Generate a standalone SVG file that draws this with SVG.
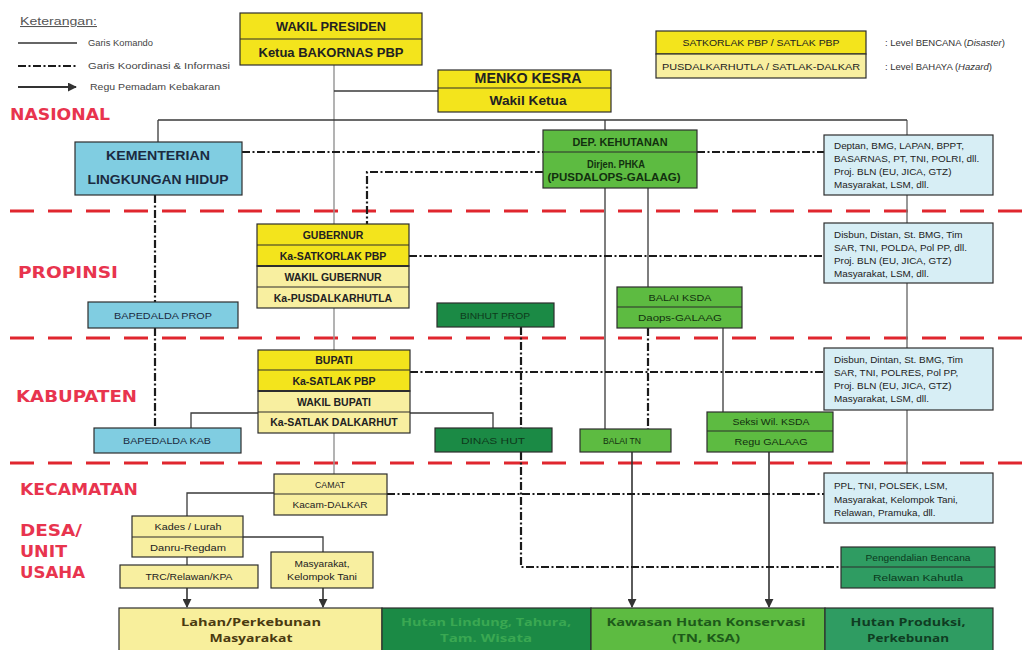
<svg xmlns="http://www.w3.org/2000/svg" width="1022" height="650" viewBox="0 0 1022 650">
<defs>
<marker id="ah" viewBox="0 0 10 10" refX="9" refY="5" markerWidth="9" markerHeight="9" markerUnits="userSpaceOnUse" orient="auto"><path d="M0,0 L10,5 L0,10 z" fill="#333"/></marker>
</defs>
<style>
.bx{stroke:#2d2d2d;stroke-width:1.2}
.sp{stroke:#2d2d2d;stroke-width:1.2;fill:none}
.sp2{stroke:#2d2d2d;stroke-width:2;fill:none}
.yb{fill:#f3e41c}.yl{fill:#f8efa0}.lb{fill:#80cde1}.pb{fill:#d7eef5}.g1{fill:#5dbb41}.g2{fill:#1b8a45}.g3{fill:#2f9c62}
text{font-family:"Liberation Sans",Arial,sans-serif}
.t{text-anchor:middle;font-weight:bold;fill:#222}
.n{text-anchor:middle;fill:#222}
.s{font-size:9.9px;fill:#222}
.lv{font-family:"DejaVu Sans",Verdana,sans-serif;font-weight:bold;font-size:16px;fill:#e8344e}
.lg{font-size:8.5px;fill:#444}
.cmd{stroke:#3a3a3a;stroke-width:1.3;fill:none}
.gr{stroke:#9a9a9a;stroke-width:1.5;fill:none}
.gr2{stroke:#777;stroke-width:1.5;fill:none}
.crd{stroke:#1a1a1a;stroke-width:2.2;fill:none;stroke-dasharray:8 2.5 2 2.5}
.arr{stroke:#333;stroke-width:1.6;fill:none}
.red{stroke:#e0262e;stroke-width:3;stroke-dasharray:24 14;fill:none}
.bt{font-family:"Open Sans","Liberation Sans",sans-serif;font-weight:bold;font-size:11px;text-anchor:middle}
</style>
<rect width="1022" height="650" fill="#ffffff"/>

<g id="legend">
<text x="20" y="25" font-size="10.5" fill="#555" text-decoration="underline" textLength="77" lengthAdjust="spacingAndGlyphs">Keterangan:</text>
<path d="M18,43H77" stroke="#333" stroke-width="1.3"/>
<text class="lg" x="88" y="46" textLength="65" lengthAdjust="spacingAndGlyphs">Garis Komando</text>
<path class="crd" d="M18,66H77"/>
<text class="lg" x="88" y="69" textLength="142" lengthAdjust="spacingAndGlyphs">Garis Koordinasi &amp; Informasi</text>
<path d="M18,87H76" stroke="#333" stroke-width="2.2" marker-end="url(#ah)"/>
<text class="lg" x="90" y="90" textLength="130" lengthAdjust="spacingAndGlyphs">Regu Pemadam Kebakaran</text>
<rect class="bx yb" x="656" y="31" width="210" height="23"/>
<rect class="bx yl" x="656" y="54" width="210" height="24"/>
<text class="n" x="761" y="46" font-size="9.5" textLength="157" lengthAdjust="spacingAndGlyphs">SATKORLAK PBP / SATLAK PBP</text>
<text class="n" x="761" y="70" font-size="9.5" textLength="198" lengthAdjust="spacingAndGlyphs">PUSDALKARHUTLA / SATLAK-DALKAR</text>
<text x="885" y="46" font-size="9.5" fill="#333">: Level BENCANA (<tspan font-style="italic">Disaster</tspan>)</text>
<text x="885" y="70" font-size="9.5" fill="#333">: Level BAHAYA (<tspan font-style="italic">Hazard</tspan>)</text>
</g>

<g id="levels">
<path class="red" d="M10,211H1022M10,338H1022M10,463H1022"/>
<text class="lv" x="10" y="120" textLength="100" lengthAdjust="spacingAndGlyphs">NASIONAL</text>
<text class="lv" x="18" y="278" textLength="100" lengthAdjust="spacingAndGlyphs">PROPINSI</text>
<text class="lv" x="16" y="402" textLength="121" lengthAdjust="spacingAndGlyphs">KABUPATEN</text>
<text class="lv" x="20" y="495" textLength="118" lengthAdjust="spacingAndGlyphs">KECAMATAN</text>
<text class="lv" x="20" y="536" textLength="62" lengthAdjust="spacingAndGlyphs">DESA/</text>
<text class="lv" x="20" y="557" textLength="47" lengthAdjust="spacingAndGlyphs">UNIT</text>
<text class="lv" x="20" y="578" textLength="65" lengthAdjust="spacingAndGlyphs">USAHA</text>
</g>

<g id="connectors">
<path class="gr" d="M334,65V474"/>
<path class="gr2" d="M907,120V473"/>
<path class="cmd" d="M334,91H438"/>
<path class="cmd" d="M158,120H907M158,120V142M605,120V130"/>
<path class="cmd" d="M605,188V429M648,188V287M723,328V412"/>
<path class="cmd" d="M191,428V413H493V428"/>
<path class="cmd" d="M274,493H187V516"/>
<path class="cmd" d="M243,537H323V552"/>
<path class="cmd" d="M187,557V565"/>
<path class="arr" d="M187,588V607" marker-end="url(#ah)"/>
<path class="arr" d="M323,588V607" marker-end="url(#ah)"/>
<path class="arr" d="M632,452V607" marker-end="url(#ah)"/>
<path class="arr" d="M769,452V607" marker-end="url(#ah)"/>
<path class="crd" d="M242,152H543"/>
<path class="crd" d="M543,172H367V224"/>
<path class="crd" d="M697,152H824"/>
<path class="crd" d="M155,195V302"/>
<path class="crd" d="M155,328V428"/>
<path class="crd" d="M409,256H824"/>
<path class="crd" d="M410,372H824"/>
<path class="crd" d="M648,328V429"/>
<path class="crd" d="M521,327V428"/>
<path class="crd" d="M521,452V567H841"/>
<path class="crd" d="M387,494H824"/>
</g>

<g id="wakil-presiden">
<rect class="bx yb" x="240" y="13" width="182" height="52"/>
<path class="sp" d="M240,39H422"/>
<text class="t" x="331" y="31" font-size="13" textLength="110" lengthAdjust="spacingAndGlyphs">WAKIL PRESIDEN</text>
<text class="t" x="331" y="57" font-size="13" textLength="145" lengthAdjust="spacingAndGlyphs">Ketua BAKORNAS PBP</text>
</g>

<g id="menko-kesra">
<rect class="bx yb" x="438" y="70" width="173" height="42"/>
<path class="sp" d="M438,88H611"/>
<text class="t" x="528" y="83" font-size="14" textLength="107" lengthAdjust="spacingAndGlyphs">MENKO KESRA</text>
<text class="t" x="528" y="105" font-size="13" textLength="77" lengthAdjust="spacingAndGlyphs">Wakil Ketua</text>
</g>

<g id="kementerian-lh">
<rect class="bx lb" x="75" y="142" width="167" height="53"/>
<text class="t" x="158" y="160" font-size="13.5" style="fill:#1b2a40" textLength="104" lengthAdjust="spacingAndGlyphs">KEMENTERIAN</text>
<text class="t" x="158" y="184" font-size="13.5" style="fill:#1b2a40" textLength="141" lengthAdjust="spacingAndGlyphs">LINGKUNGAN HIDUP</text>
</g>

<g id="dep-kehutanan">
<rect class="bx g1" x="543" y="130" width="154" height="58"/>
<path class="sp" d="M543,152H697"/>
<text class="t" x="620" y="146" font-size="11" style="fill:#12300f" textLength="95" lengthAdjust="spacingAndGlyphs">DEP. KEHUTANAN</text>
<text class="t" x="616" y="168" font-size="10" style="fill:#12300f" textLength="58" lengthAdjust="spacingAndGlyphs">Dirjen. PHKA</text>
<text class="t" x="614" y="181" font-size="10" style="fill:#12300f" textLength="133" lengthAdjust="spacingAndGlyphs">(PUSDALOPS-GALAAG)</text>
</g>

<g id="instansi-nasional">
<rect class="bx pb" x="824" y="135" width="169" height="60"/>
<text class="s" x="834" y="149">Deptan, BMG, LAPAN, BPPT,</text>
<text class="s" x="834" y="162">BASARNAS, PT, TNI, POLRI, dll.</text>
<text class="s" x="834" y="175">Proj. BLN (EU, JICA, GTZ)</text>
<text class="s" x="834" y="188">Masyarakat, LSM, dll.</text>
</g>

<g id="gubernur">
<rect class="bx yb" x="257" y="224" width="152" height="42"/>
<rect class="bx yl" x="257" y="266" width="152" height="42"/>
<path class="sp" d="M257,245H409M257,287H409"/>
<path class="sp2" d="M257,266H409"/>
<text class="t" x="333" y="238.5" font-size="10.5">GUBERNUR</text>
<text class="t" x="333" y="259.5" font-size="10.5">Ka-SATKORLAK PBP</text>
<text class="t" x="333" y="280.5" font-size="10.5">WAKIL GUBERNUR</text>
<text class="t" x="333" y="301.5" font-size="10.5">Ka-PUSDALKARHUTLA</text>
</g>

<g id="bapedalda-prop">
<rect class="bx lb" x="88" y="302" width="150" height="26"/>
<text class="n" x="163" y="318.5" font-size="9.5" style="fill:#1b2a40" textLength="98" lengthAdjust="spacingAndGlyphs">BAPEDALDA PROP</text>
</g>

<g id="instansi-propinsi">
<rect class="bx pb" x="824" y="223" width="169" height="60"/>
<text class="s" x="834" y="238">Disbun, Distan, St. BMG, Tim</text>
<text class="s" x="834" y="251">SAR, TNI, POLDA, Pol PP, dll.</text>
<text class="s" x="834" y="264">Proj. BLN (EU, JICA, GTZ)</text>
<text class="s" x="834" y="277">Masyarakat, LSM, dll.</text>
</g>

<g id="binhut-prop">
<rect class="bx g2" x="437" y="303" width="117" height="24"/>
<text class="n" x="495" y="318.5" font-size="9.5" style="fill:#0e3a1c" textLength="70" lengthAdjust="spacingAndGlyphs">BINHUT PROP</text>
</g>

<g id="balai-ksda">
<rect class="bx g1" x="617" y="287" width="125" height="41"/>
<path class="sp" d="M617,307H742"/>
<text class="n" x="680" y="301" font-size="9.5" style="fill:#12300f" textLength="63" lengthAdjust="spacingAndGlyphs">BALAI KSDA</text>
<text class="n" x="680" y="321" font-size="9.5" style="fill:#12300f" textLength="84" lengthAdjust="spacingAndGlyphs">Daops-GALAAG</text>
</g>

<g id="bupati">
<rect class="bx yb" x="258" y="350" width="152" height="41"/>
<rect class="bx yl" x="258" y="391" width="152" height="42"/>
<path class="sp" d="M258,370H410M258,412H410"/>
<path class="sp2" d="M258,391H410"/>
<text class="t" x="334" y="364" font-size="10.5">BUPATI</text>
<text class="t" x="334" y="384.5" font-size="10.5">Ka-SATLAK PBP</text>
<text class="t" x="334" y="405.5" font-size="10.5">WAKIL BUPATI</text>
<text class="t" x="334" y="426" font-size="10.5">Ka-SATLAK DALKARHUT</text>
</g>

<g id="bapedalda-kab">
<rect class="bx lb" x="94" y="428" width="147" height="25"/>
<text class="n" x="167" y="444" font-size="9.5" style="fill:#1b2a40" textLength="88" lengthAdjust="spacingAndGlyphs">BAPEDALDA KAB</text>
</g>

<g id="dinas-hut">
<rect class="bx g2" x="435" y="428" width="117" height="24"/>
<text class="n" x="493" y="443.5" font-size="9.5" style="fill:#0e3a1c" textLength="64" lengthAdjust="spacingAndGlyphs">DINAS HUT</text>
</g>

<g id="instansi-kabupaten">
<rect class="bx pb" x="824" y="348" width="169" height="62"/>
<text class="s" x="834" y="363">Disbun, Dintan, St. BMG, Tim</text>
<text class="s" x="834" y="376">SAR, TNI, POLRES, Pol PP,</text>
<text class="s" x="834" y="389">Proj. BLN (EU, JICA, GTZ)</text>
<text class="s" x="834" y="402">Masyarakat, LSM, dll.</text>
</g>

<g id="balai-tn">
<rect class="bx g1" x="580" y="429" width="91" height="23"/>
<text class="n" x="622" y="444" font-size="9.5" style="fill:#12300f" textLength="38" lengthAdjust="spacingAndGlyphs">BALAI TN</text>
</g>

<g id="seksi-wil-ksda">
<rect class="bx g1" x="707" y="412" width="126" height="40"/>
<path class="sp" d="M707,431H833"/>
<text class="n" x="771" y="425" font-size="9.5" style="fill:#12300f" textLength="77" lengthAdjust="spacingAndGlyphs">Seksi Wil. KSDA</text>
<text class="n" x="771" y="445" font-size="9.5" style="fill:#12300f" textLength="73" lengthAdjust="spacingAndGlyphs">Regu GALAAG</text>
</g>

<g id="camat">
<rect class="bx yl" x="274" y="474" width="113" height="41"/>
<path class="sp" d="M274,494H387"/>
<text class="n" x="330" y="487.5" font-size="9" textLength="30" lengthAdjust="spacingAndGlyphs">CAMAT</text>
<text class="n" x="330" y="508" font-size="9" textLength="75" lengthAdjust="spacingAndGlyphs">Kacam-DALKAR</text>
</g>

<g id="instansi-kecamatan">
<rect class="bx pb" x="824" y="473" width="169" height="50"/>
<text class="s" x="834" y="489">PPL, TNI, POLSEK, LSM,</text>
<text class="s" x="834" y="502.5">Masyarakat, Kelompok Tani,</text>
<text class="s" x="834" y="516">Relawan, Pramuka, dll.</text>
</g>

<g id="kades-lurah">
<rect class="bx yl" x="132" y="516" width="111" height="41"/>
<path class="sp" d="M132,537H243"/>
<text class="n" x="188" y="530" font-size="9" textLength="67" lengthAdjust="spacingAndGlyphs">Kades / Lurah</text>
<text class="n" x="188" y="550.5" font-size="9" textLength="76" lengthAdjust="spacingAndGlyphs">Danru-Regdam</text>
</g>

<g id="masyarakat">
<rect class="bx yl" x="271" y="552" width="102" height="36"/>
<text class="n" x="322" y="567" font-size="9" textLength="55" lengthAdjust="spacingAndGlyphs">Masyarakat,</text>
<text class="n" x="322" y="580" font-size="9" textLength="70" lengthAdjust="spacingAndGlyphs">Kelompok Tani</text>
</g>

<g id="trc">
<rect class="bx yl" x="120" y="565" width="138" height="23"/>
<text class="n" x="189" y="580" font-size="9" textLength="87" lengthAdjust="spacingAndGlyphs">TRC/Relawan/KPA</text>
</g>

<g id="pengendalian">
<rect class="bx g3" x="841" y="547" width="154" height="41"/>
<path class="sp" d="M841,567H995"/>
<text class="n" x="918" y="560.5" font-size="9.5" style="fill:#0b3a1e" textLength="105" lengthAdjust="spacingAndGlyphs">Pengendalian Bencana</text>
<text class="n" x="918" y="581" font-size="9.5" style="fill:#0b3a1e" textLength="90" lengthAdjust="spacingAndGlyphs">Relawan Kahutla</text>
</g>

<g id="lahan-masyarakat">
<rect class="bx" x="119" y="608" width="263" height="46" fill="#f8ef9c"/>
<text class="bt" x="251" y="626" fill="#4a3a10" textLength="140" lengthAdjust="spacingAndGlyphs">Lahan/Perkebunan</text>
<text class="bt" x="251" y="642" fill="#4a3a10" textLength="83" lengthAdjust="spacingAndGlyphs">Masyarakat</text>
</g>

<g id="hutan-lindung">
<rect class="bx" x="382" y="608" width="209" height="46" fill="#1b8a45"/>
<text class="bt" x="486" y="626" fill="#3aa852" textLength="170" lengthAdjust="spacingAndGlyphs">Hutan Lindung, Tahura,</text>
<text class="bt" x="486" y="642" fill="#3aa852" textLength="92" lengthAdjust="spacingAndGlyphs">Tam. Wisata</text>
</g>

<g id="kawasan-konservasi">
<rect class="bx" x="591" y="608" width="234" height="46" fill="#5dbb41"/>
<text class="bt" x="706" y="626" fill="#1d5a1a" textLength="199" lengthAdjust="spacingAndGlyphs">Kawasan Hutan Konservasi</text>
<text class="bt" x="706" y="642" fill="#1d5a1a" textLength="68" lengthAdjust="spacingAndGlyphs">(TN, KSA)</text>
</g>

<g id="hutan-produksi">
<rect class="bx" x="825" y="608" width="168" height="46" fill="#2f9c62"/>
<text class="bt" x="908" y="626" fill="#0f3d22" textLength="115" lengthAdjust="spacingAndGlyphs">Hutan Produksi,</text>
<text class="bt" x="908" y="642" fill="#0f3d22" textLength="82" lengthAdjust="spacingAndGlyphs">Perkebunan</text>
</g>
</svg>
